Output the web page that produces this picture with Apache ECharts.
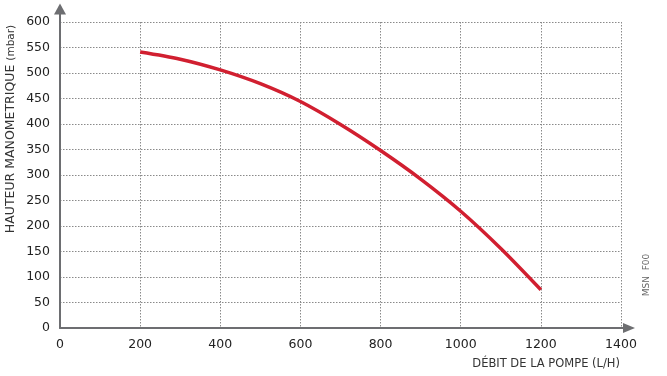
<!DOCTYPE html>
<html><head><meta charset="utf-8">
<script src="https://cdn.jsdelivr.net/npm/echarts@6/dist/echarts.min.js"></script>
<style>html,body{margin:0;padding:0;background:#fff}#c{width:667px;height:376px}</style>
</head><body><div id="c"></div>
<script>
const flowRates = [200, 300, 400, 500, 600, 700, 800, 900, 1000, 1100, 1200];
const headValues = [541, 527, 506, 479, 444, 399, 348, 292, 229, 156, 75];
const xTickLabels = [0, 200, 400, 600, 800, 1000, 1200, 1400];
const yTickLabels = [0, 50, 100, 150, 200, 250, 300, 350, 400, 450, 500, 550, 600];
const xTitle = 'DÉBIT DE LA POMPE (L/H)';
const yTitleMain = 'HAUTEUR MANOMETRIQUE';
const yTitleUnit = '(mbar)';
const footNote = 'MSN  F00';

const FONT = 'DejaVu Sans';
const axisColor = '#6d6e71';
const chart = echarts.init(document.getElementById('c'));
chart.setOption({
  animation: false,
  grid: { left: 60, right: 46, top: 22, bottom: 48 },
  xAxis: {
    type: 'value', min: xTickLabels[0], max: xTickLabels[xTickLabels.length - 1], interval: 200,
    axisLine: { lineStyle: { color: axisColor, width: 2 }, symbol: ['none', 'triangle'], symbolSize: [10, 12], symbolOffset: [0, 8] },
    axisTick: { show: false },
    axisLabel: { color: '#222', fontFamily: FONT, fontSize: 12.5, margin: 10, formatter: v => String(v) },
    splitLine: { show: true, lineStyle: { color: '#8a8a8a', width: 1, type: [1.5, 1.5] } },
    name: xTitle, nameLocation: 'end', nameGap: -1,
    nameTextStyle: { color: '#333', fontFamily: FONT, fontSize: 11.5, align: 'right', verticalAlign: 'top', padding: [30, 0, 0, 0] }
  },
  yAxis: {
    type: 'value', min: yTickLabels[0], max: yTickLabels[yTickLabels.length - 1], interval: 50,
    axisLine: { show: true, lineStyle: { color: axisColor, width: 2 }, symbol: ['none', 'triangle'], symbolSize: [12, 11], symbolOffset: [0, 13] },
    axisTick: { show: false },
    axisLabel: { color: '#222', fontFamily: FONT, fontSize: 12.5, margin: 10, formatter: v => String(v) },
    splitLine: { show: true, lineStyle: { color: '#8a8a8a', width: 1, type: [1.5, 1.5] } }
  },
  graphic: [
    { type: 'line', shape: { x1: 60, y1: 23, x2: 60, y2: 14 }, style: { stroke: axisColor, lineWidth: 2 } },
    { type: 'line', shape: { x1: 620, y1: 328, x2: 625, y2: 328 }, style: { stroke: axisColor, lineWidth: 2 } },
    { type: 'text', x: 11, y: 129, rotation: Math.PI / 2,
      style: { text: '{a|' + yTitleMain + ' }{b|' + yTitleUnit + '}', align: 'center', verticalAlign: 'middle',
        rich: { a: { fontFamily: FONT, fontSize: 12.5, fill: '#333' }, b: { fontFamily: FONT, fontSize: 10.5, fill: '#333' } } } },
    { type: 'text', x: 647, y: 275, rotation: Math.PI / 2,
      style: { text: footNote, align: 'center', verticalAlign: 'middle', fontFamily: FONT, fontSize: 9, fill: '#666' } }
  ],
  series: [{
    type: 'line', smooth: 0.3, showSymbol: false,
    data: flowRates.map((x, i) => [x, headValues[i]]),
    lineStyle: { color: '#d11f30', width: 3.5 }
  }]
});
</script></body></html>
